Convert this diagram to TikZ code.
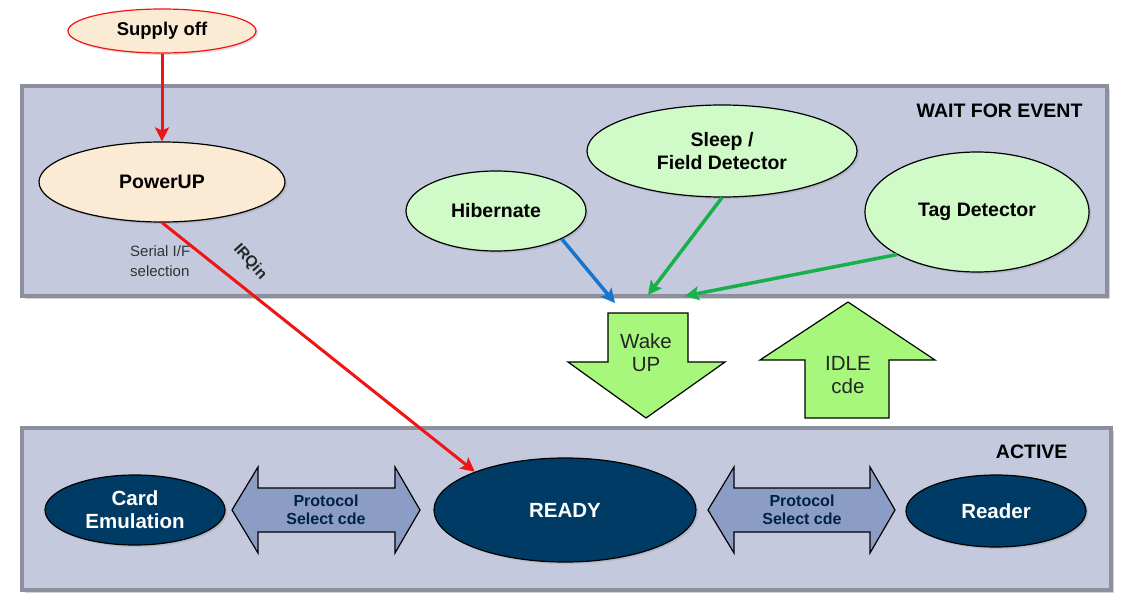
\documentclass[tikz,border=0pt]{standalone}
\usepackage{fontspec}
\setmainfont{Liberation Sans}
\usetikzlibrary{shapes.geometric,arrows.meta,shadows}
\definecolor{boxfill}{RGB}{196,201,222}
\definecolor{boxline}{RGB}{140,144,156}
\definecolor{peach}{RGB}{252,235,212}
\definecolor{mint}{RGB}{208,250,200}
\definecolor{lime}{RGB}{166,247,124}
\definecolor{navy}{RGB}{0,59,102}
\definecolor{protofill}{RGB}{139,157,196}
\definecolor{arrgreen}{RGB}{24,176,74}
\definecolor{arrblue}{RGB}{24,116,205}
\definecolor{arrred}{RGB}{240,20,20}
\tikzset{
  region/.style={draw=boxline, line width=4pt, fill=boxfill, drop shadow={shadow xshift=3pt, shadow yshift=-3pt, opacity=0.35}},
  state/.style={ellipse, draw=black, line width=1.2pt, inner sep=0pt, font=\bfseries\fontsize{19.5}{23}\selectfont, align=center, drop shadow={shadow xshift=2pt, shadow yshift=-2pt, opacity=0.25}},
  greenstate/.style={state, fill=mint},
  navystate/.style={state, fill=navy, text=white, font=\bfseries\fontsize{20.5}{23}\selectfont},
  blockarrow/.style={draw=black, line width=1.2pt, line join=miter},
  redarrow/.style={draw=arrred, line width=3pt, -{Stealth[length=14pt,width=14pt,inset=3pt]}},
  greenarrow/.style={draw=arrgreen, line width=3.5pt, -{Stealth[length=14pt,width=14pt,inset=3pt]}},
  bluearrow/.style={draw=arrblue, line width=3.5pt, -{Stealth[length=14pt,width=14pt,inset=3pt]}},
  title/.style={font=\bfseries\fontsize{19.5}{22}\selectfont},
  arrtext/.style={font=\fontsize{20.5}{23}\selectfont, align=center, text=black!85},
  prototext/.style={font=\bfseries\fontsize{16}{18}\selectfont, align=center, text=navy!60!black},
}
\begin{document}
\begin{tikzpicture}[x=1pt,y=-1pt]
\useasboundingbox (0,0) rectangle (1122,594);
% regions
\path[region] (22,86) rectangle (1107,296);
\path[region] (22,428) rectangle (1111,590);
\node[title, anchor=east] (wfe) at (1086,111) {WAIT FOR EVENT};
\node[title, anchor=east] (act) at (1071,452) {ACTIVE};

% top states
\node[state, draw=arrred, fill=peach, minimum width=188pt, minimum height=44pt, font=\bfseries\fontsize{18.5}{21}\selectfont] (supply) at (162,31) {Supply off};
\node[state, fill=peach, minimum width=246pt, minimum height=80pt] (power) at (162,182) {PowerUP};
\node[greenstate, minimum width=180pt, minimum height=80pt] (hib) at (496,211) {Hibernate};
\node[greenstate, minimum width=270pt, minimum height=92pt] (sleep) at (722,151) {Sleep /\\Field Detector};
\node[greenstate, minimum width=224pt, minimum height=120pt] (tag) at (977,212) {Tag Detector};

\node[font=\fontsize{15}{20}\selectfont, align=left, anchor=north west, inner sep=0pt, text=black!80] (serial) at (130,245) {Serial I/F\\selection};

% bottom states
\node[navystate, minimum width=180pt, minimum height=70pt] (card) at (135,510) {Card\\Emulation};
\node[navystate, minimum width=262pt, minimum height=104pt] (ready) at (565,510) {READY};
\node[navystate, minimum width=180pt, minimum height=72pt] (reader) at (996,511) {Reader};

% block arrows
\path[blockarrow, fill=lime] (608,313) -- (688,313) -- (688,362) -- (725,362) -- (646,418) -- (568,362) -- (608,362) -- cycle;
\node[arrtext] (wake) at (646,353) {Wake\\UP};
\path[blockarrow, fill=lime] (805,418) -- (889,418) -- (889,360) -- (935,360) -- (848,302) -- (760,360) -- (805,360) -- cycle;
\node[arrtext] (idle) at (848,375) {IDLE\\cde};

\path[blockarrow, fill=protofill] (232,510) -- (258,467) -- (258,488) -- (395,488) -- (395,467) -- (420,510) -- (395,553) -- (395,532) -- (258,532) -- (258,553) -- cycle;
\node[prototext] (proto1) at (326,510) {Protocol\\Select cde};
\path[blockarrow, fill=protofill] (708,510) -- (734,467) -- (734,488) -- (870,488) -- (870,467) -- (895,510) -- (870,553) -- (870,532) -- (734,532) -- (734,553) -- cycle;
\node[prototext] (proto2) at (802,510) {Protocol\\Select cde};

% connectors
\draw[redarrow] (supply.south) -- (power.north);
\draw[redarrow] (power.south) -- (ready.157);
\node[font=\bfseries\fontsize{15.5}{17}\selectfont, rotate=-48, text=black!85, inner sep=1pt] (irq) at (250,262) {IRQin};

\coordinate (hibend) at (615,303);
\coordinate (sleepend) at (648,295);
\coordinate (tagend) at (685,296);
\draw[bluearrow] (hib.-23) -- (hibend);
\draw[greenarrow] (sleep.south) -- (sleepend);
\draw[greenarrow] (tag.208) -- (tagend);
\end{tikzpicture}
\end{document}
